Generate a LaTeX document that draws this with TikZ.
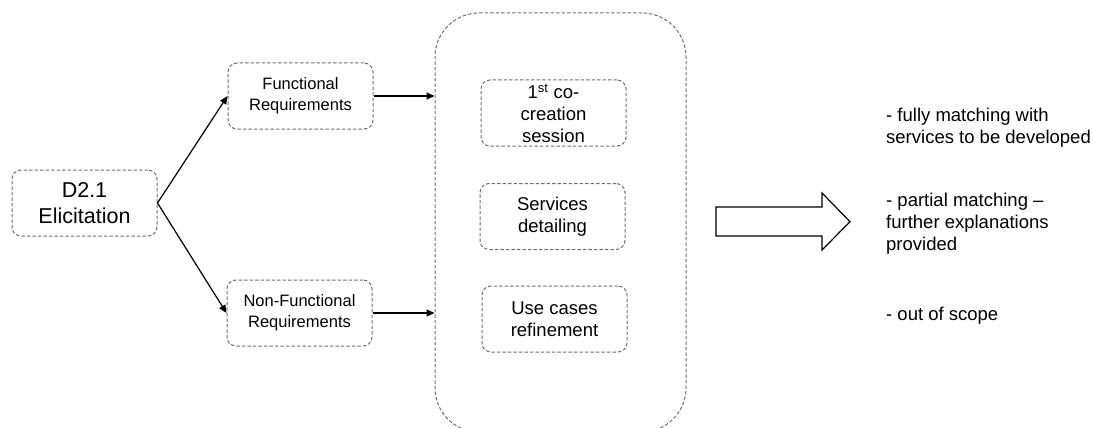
\documentclass[tikz,border=0pt]{standalone}
\usepackage{fontspec}
\setmainfont{Liberation Sans}
\usetikzlibrary{arrows.meta}
\definecolor{boxgray}{RGB}{112,112,112}
\tikzset{
  dbox/.style={draw=boxgray, line width=1pt, dash pattern=on 3.5pt off 2pt, rounded corners=9pt,
    minimum width=145pt, minimum height=66pt, inner sep=0pt, align=center},
  small/.style={font=\fontsize{16.5}{20.6}\selectfont},
  mid/.style={font=\fontsize{18.5}{21.8}\selectfont},
  big/.style={font=\fontsize{21.5}{25.7}\selectfont},
  conn/.style={-{Triangle[length=8pt,width=7pt]}, line width=1.2pt, black},
  rtext/.style={anchor=base west, align=left, inner sep=0pt, mid},
}
\begin{document}
\begin{tikzpicture}[x=1pt,y=-1pt]
\useasboundingbox (0,0) rectangle (1093,428);
\node[dbox, big] (d21) at (84.5,203) {D2.1\\Elicitation};
\node[dbox, small] (fr) at (300.5,96) {Functional\\Requirements};
\node[dbox, small] (nfr) at (299.5,313) {Non-Functional\\Requirements};
\node[draw=boxgray, line width=1pt, dash pattern=on 3.5pt off 2pt, rounded corners=44pt,
  minimum width=251pt, minimum height=419pt, inner sep=0pt] (proc) at (560.5,222.5) {};
\node[dbox, mid] (cocr) at (553.5,113) {1\textsuperscript{st} co-\\creation\\session};
\node[dbox, mid] (serv) at (552.5,216.5) {Services\\detailing};
\node[dbox, mid] (usec) at (554.5,319) {Use cases\\refinement};
\draw[conn] (d21.east) -- (fr.west);
\draw[conn] (d21.east) -- (nfr.west);
\draw[conn] (fr.east) -- (fr.east -| proc.west);
\draw[conn] (nfr.east) -- (nfr.east -| proc.west);
\draw[line width=1.2pt, black, line join=miter]
  (716,207) -- (822,207) -- (822,193) -- (850,221.7) -- (822,250) -- (822,236) -- (716,236) -- cycle;
\node[rtext] (t1) at (886,143) {- fully matching with\\services to be developed};
\node[rtext] (t2) at (886,250) {- partial matching –\\further explanations\\provided};
\node[rtext] (t3) at (886,320) {- out of scope};
\end{tikzpicture}
\end{document}
